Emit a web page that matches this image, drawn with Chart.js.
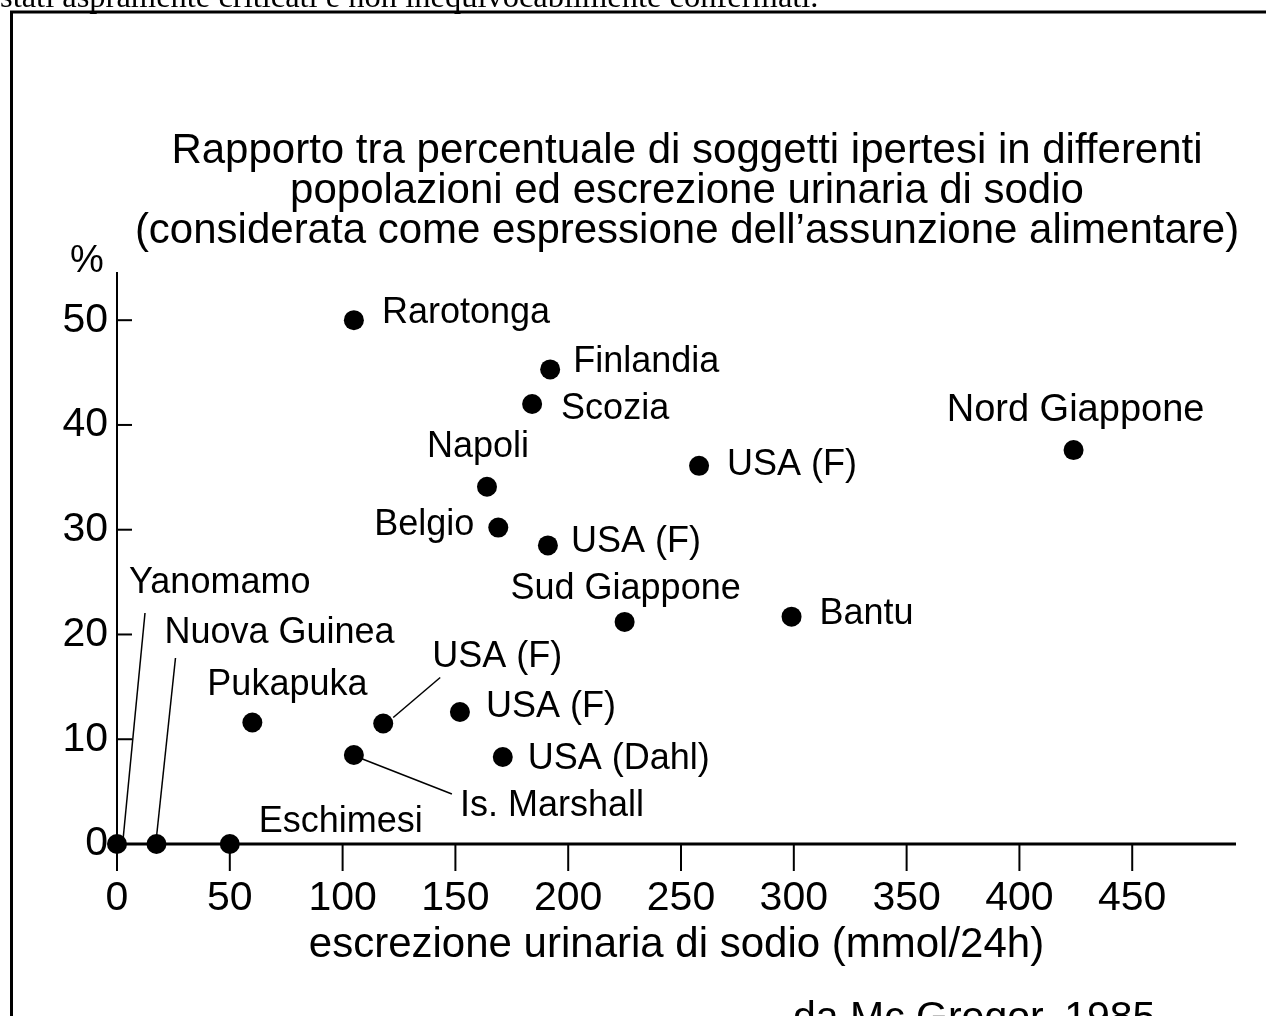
<!DOCTYPE html>
<html><head><meta charset="utf-8">
<script src="https://cdn.jsdelivr.net/npm/chart.js@4.4.1/dist/chart.umd.min.js"></script>
<style>html,body{margin:0;padding:0;background:#fff;}canvas{display:block;}</style>
</head><body>
<canvas id="c" width="1266" height="1016"></canvas>
<script>
// ---- data ----
const populations = ['Yanomamo','Nuova Guinea','Eschimesi','Pukapuka','Is. Marshall','USA (F)','USA (F)','USA (Dahl)','Rarotonga','Finlandia','Scozia','Napoli','Belgio','USA (F)','USA (F)','Sud Giappone','Bantu','Nord Giappone'];
const sodium =       [0, 17.5, 50, 60,   105, 118,  152,  171, 105, 192,  184, 164,  169,  191,  258,  225,  299,  424];
const hypertensive = [0, 0,    0,  11.6, 8.5, 11.5, 12.6, 8.3, 50,  45.3, 42,  34.1, 30.2, 28.5, 36.1, 21.2, 21.7, 37.6];
const xTickValues = [0,50,100,150,200,250,300,350,400,450];
const yTickValues = [0,10,20,30,40,50];
const titleLines = [
  'Rapporto tra percentuale di soggetti ipertesi in differenti',
  'popolazioni ed escrezione urinaria di sodio',
  '(considerata come espressione dell\u2019assunzione alimentare)'
];
const xAxisTitle = 'escrezione urinaria di sodio (mmol/24h)';
const yAxisUnit = '%';
const sourceNote = 'da Mc Gregor, 1985';
const pageTopText = 'stati aspramente criticati e non inequivocabilmente confermati.';

// ---- label styling (pixel offsets from each point) ----
const labelStyle = [
  {dx: 12, dy: -261, align: 'left', leader: [6,-4,28,-231]},
  {dx: 8,  dy: -211, align: 'left', leader: [0,-7,19,-186]},
  {dx: 29, dy: -22,  align: 'left'},
  {dx: -45,dy: -37,  align: 'left'},
  {dx: 106,dy: 51,   align: 'left', leader: [6,3,98,39]},
  {dx: 49, dy: -66,  align: 'left', leader: [10,-6,57,-46]},
  {dx: 26, dy: -5,   align: 'left'},
  {dx: 25, dy: 2,    align: 'left'},
  {dx: 28, dy: -7,   align: 'left'},
  {dx: 23, dy: -7,   align: 'left'},
  {dx: 29, dy: 5,    align: 'left'},
  {dx: -60,dy: -40,  align: 'left'},
  {dx: -24,dy: -3,   align: 'right'},
  {dx: 23, dy: -3,   align: 'left'},
  {dx: 28, dy: -1,   align: 'left'},
  {dx: 1,  dy: -33,  align: 'center'},
  {dx: 28, dy: -3,   align: 'left'},
  {dx: 2,  dy: -40,  align: 'center', size: 38}
];

const FONT = "'Liberation Sans', Arial, sans-serif";

const frameAndAxes = {
  id: 'frameAndAxes',
  beforeDatasetsDraw(chart) {
    const {ctx, scales: {x, y}, chartArea} = chart;
    const x0 = x.getPixelForValue(0), y0 = y.getPixelForValue(0);
    const line = (a, b, c, d) => { ctx.beginPath(); ctx.moveTo(a, b); ctx.lineTo(c, d); ctx.stroke(); };
    ctx.save();
    ctx.strokeStyle = '#000';
    // page frame
    ctx.lineWidth = 3;
    line(11.5, 12, 11.5, 1016);
    line(10, 12, 1266, 12);
    // y axis
    ctx.lineWidth = 2;
    line(x0, chartArea.top, x0, y0 + 27);
    yTickValues.filter(v => v > 0).forEach(v => { const p = y.getPixelForValue(v); line(x0, p, x0 + 15, p); });
    // x axis
    ctx.lineWidth = 3;
    line(x0, y0, chartArea.right, y0);
    ctx.lineWidth = 2;
    xTickValues.forEach(v => { const p = x.getPixelForValue(v); line(p, y0, p, y0 + 27); });
    ctx.restore();
  },
  afterDraw(chart) {
    const {ctx, scales: {x, y}} = chart;
    ctx.save();
    ctx.fillStyle = '#000';
    ctx.strokeStyle = '#000';
    ctx.lineWidth = 1.5;
    // title
    ctx.textAlign = 'center';
    ctx.textBaseline = 'alphabetic';
    ctx.font = '42px ' + FONT;
    titleLines.forEach((t, i) => ctx.fillText(t, 687, 163 + i * 40));
    // point labels + leaders
    ctx.textBaseline = 'middle';
    populations.forEach((name, i) => {
      const px = x.getPixelForValue(sodium[i]), py = y.getPixelForValue(hypertensive[i]);
      const s = labelStyle[i];
      ctx.font = (s.size || 36) + 'px ' + FONT;
      ctx.textAlign = s.align;
      ctx.fillText(name, px + s.dx, py + s.dy);
      if (s.leader) {
        ctx.beginPath();
        ctx.moveTo(px + s.leader[0], py + s.leader[1]);
        ctx.lineTo(px + s.leader[2], py + s.leader[3]);
        ctx.stroke();
      }
    });
    // unit
    ctx.textAlign = 'center';
    ctx.font = '38px ' + FONT;
    ctx.fillText(yAxisUnit, 87, 262);
    // source note
    ctx.textAlign = 'left';
    ctx.textBaseline = 'alphabetic';
    ctx.font = '41px ' + FONT;
    ctx.fillText(sourceNote, 793, 1030);
    // page text above frame
    ctx.font = "32.5px 'Liberation Serif', 'Times New Roman', serif";
    ctx.fillText(pageTopText, 0, 7);
    ctx.restore();
  }
};

new Chart(document.getElementById('c'), {
  type: 'scatter',
  data: {
    datasets: [{
      data: sodium.map((v, i) => ({x: v, y: hypertensive[i]})),
      pointRadius: 10,
      pointHoverRadius: 10,
      backgroundColor: '#000',
      borderWidth: 0,
      clip: false
    }]
  },
  options: {
    responsive: false,
    animation: false,
    events: [],
    layout: {padding: {left: 0, right: 30, top: 272, bottom: 0}},
    plugins: {
      legend: {display: false},
      tooltip: {enabled: false},
      title: {display: false}
    },
    scales: {
      x: {
        type: 'linear', min: 0, max: 496,
        afterBuildTicks: s => { s.ticks = xTickValues.map(v => ({value: v})); },
        afterFit: s => { s.height = 172; },
        grid: {display: false, drawTicks: false},
        border: {display: false},
        ticks: {color: '#000', padding: 30, font: {family: FONT, size: 41}, autoSkip: false, maxRotation: 0},
        title: {display: true, text: xAxisTitle, color: '#000', font: {family: FONT, size: 42}, padding: {top: 0, bottom: 45}}
      },
      y: {
        type: 'linear', min: 0, max: 54.6,
        afterBuildTicks: s => { s.ticks = yTickValues.map(v => ({value: v})); },
        afterFit: s => { s.width = 117; },
        grid: {display: false, drawTicks: false},
        border: {display: false},
        ticks: {color: '#000', padding: 9, font: {family: FONT, size: 41}}
      }
    }
  },
  plugins: [frameAndAxes]
});
</script>
</body></html>
